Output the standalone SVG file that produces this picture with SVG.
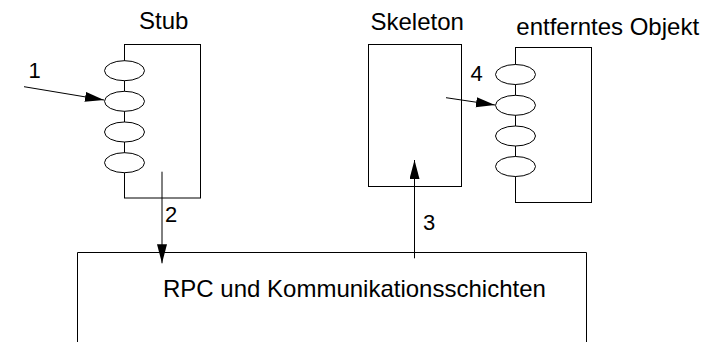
<svg xmlns="http://www.w3.org/2000/svg" width="722" height="342" viewBox="0 0 722 342">
<style>
.box{fill:none;stroke:#000;stroke-width:1}
.op{fill:#fff;stroke:#000;stroke-width:1}
.lbl{font-family:"Liberation Sans",Arial,sans-serif;font-size:24px;fill:#000}
.num{font-family:"Liberation Sans",Arial,sans-serif;font-size:22px;fill:#000}
.conn{fill:none;stroke:#000;stroke-width:1;marker-end:url(#ah)}
</style>
<defs>
<marker id="ah" markerUnits="userSpaceOnUse" markerWidth="20" markerHeight="11" refX="19" refY="5" orient="auto">
<path d="M0,0 L19,5 L0,10 z" fill="#000"/>
</marker>
</defs>
<rect width="722" height="342" fill="#fff"/>
<g id="stub">
<rect class="box" x="124.5" y="44.5" width="76" height="153.5"/>
<ellipse class="op" cx="124.5" cy="70.7" rx="20" ry="10"/>
<ellipse class="op" cx="124.5" cy="101.3" rx="20" ry="10"/>
<ellipse class="op" cx="124.5" cy="132" rx="20" ry="10"/>
<ellipse class="op" cx="124.5" cy="162.7" rx="20" ry="10"/>
<text class="lbl" x="139" y="29">Stub</text>
</g>
<g id="skeleton">
<rect class="box" x="368.5" y="44.5" width="93" height="142"/>
<text class="lbl" x="370.5" y="30">Skeleton</text>
</g>
<g id="remote-object">
<rect class="box" x="515.5" y="47.5" width="76" height="155"/>
<ellipse class="op" cx="515.5" cy="74.5" rx="20" ry="10"/>
<ellipse class="op" cx="515.5" cy="105.3" rx="20" ry="10"/>
<ellipse class="op" cx="515.5" cy="136" rx="20" ry="10"/>
<ellipse class="op" cx="515.5" cy="166.5" rx="20" ry="10"/>
<text class="lbl" x="516.3" y="35">entferntes Objekt</text>
</g>
<g id="rpc-layer">
<path class="box" d="M77.5,343 V252.5 H586.5 V343"/>
<text class="lbl" x="163" y="297">RPC und Kommunikationsschichten</text>
</g>
<g id="connectors">
<line class="conn" x1="24" y1="86.7" x2="104" y2="100"/>
<line class="conn" x1="162" y1="171.7" x2="162" y2="263.3"/>
<line class="conn" x1="414.5" y1="258.3" x2="414.5" y2="160"/>
<line class="conn" x1="446" y1="97.7" x2="495" y2="105"/>
<text class="num" x="28.6" y="78">1</text>
<text class="num" x="165" y="221.5">2</text>
<text class="num" x="423" y="230">3</text>
<text class="num" x="470.5" y="81">4</text>
</g>
</svg>
